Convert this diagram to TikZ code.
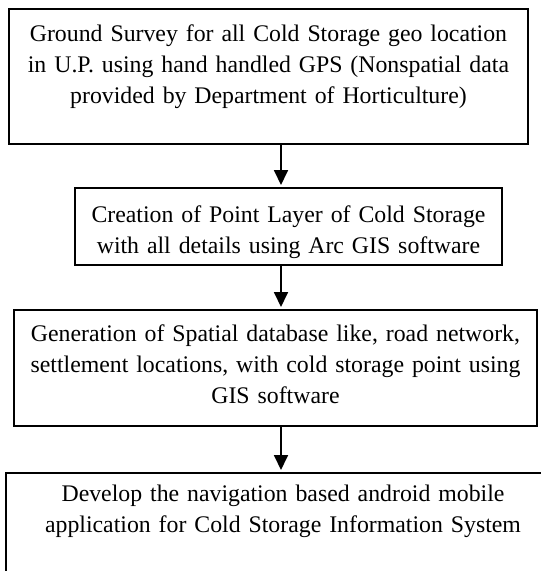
\documentclass[tikz,border=0pt]{standalone}
\usepackage{fontspec}
\setmainfont[WordSpace=0.9]{Liberation Serif}
\usetikzlibrary{arrows.meta}

\begin{document}
\begin{tikzpicture}[x=1pt,y=1pt]
            \tikzset{stage/.style={draw=black, line width=1.6pt, inner sep=0pt, anchor=north, align=center, font=\fontsize{23.8}{31}\selectfont}}
            \tikzset{flow/.style={line width=1.8pt, -{Triangle[length=15pt,width=14pt]}, shorten >=2pt}}
            \useasboundingbox (0,0) rectangle (541,-571);
            \clip (0,0) rectangle (541,-571);
            \node [stage, text width=519pt, text height=33pt, text depth=102pt] (survey) at (268.5,-8) {Ground Survey for all Cold Storage geo location\\ in U.P. using hand handled GPS (Nonspatial data\\ provided by Department of Horticulture)};
            \node [stage, text width=427pt, text height=35pt, text depth=42pt] (layer) at (288.5,-187) {Creation of Point Layer of Cold Storage\\ with all details using Arc GIS software};
            \node [stage, text width=523pt, text height=32pt, text depth=84pt] (spatial) at (275.5,-309) {Generation of Spatial database like, road network,\\ settlement locations, with cold storage point using\\ GIS software};
            \node [stage, text width=554pt, text height=29pt, text depth=140pt] (android) at (283,-472) {Develop the navigation based android mobile\\ application for Cold Storage Information System};
            \coordinate (axis) at (281,0);
            \draw [flow] (survey.south -| axis) -- (layer.north -| axis);
            \draw [flow] (layer.south -| axis) -- (spatial.north -| axis);
            \draw [flow] (spatial.south -| axis) -- (android.north -| axis);
        \end{tikzpicture}
\end{document}
